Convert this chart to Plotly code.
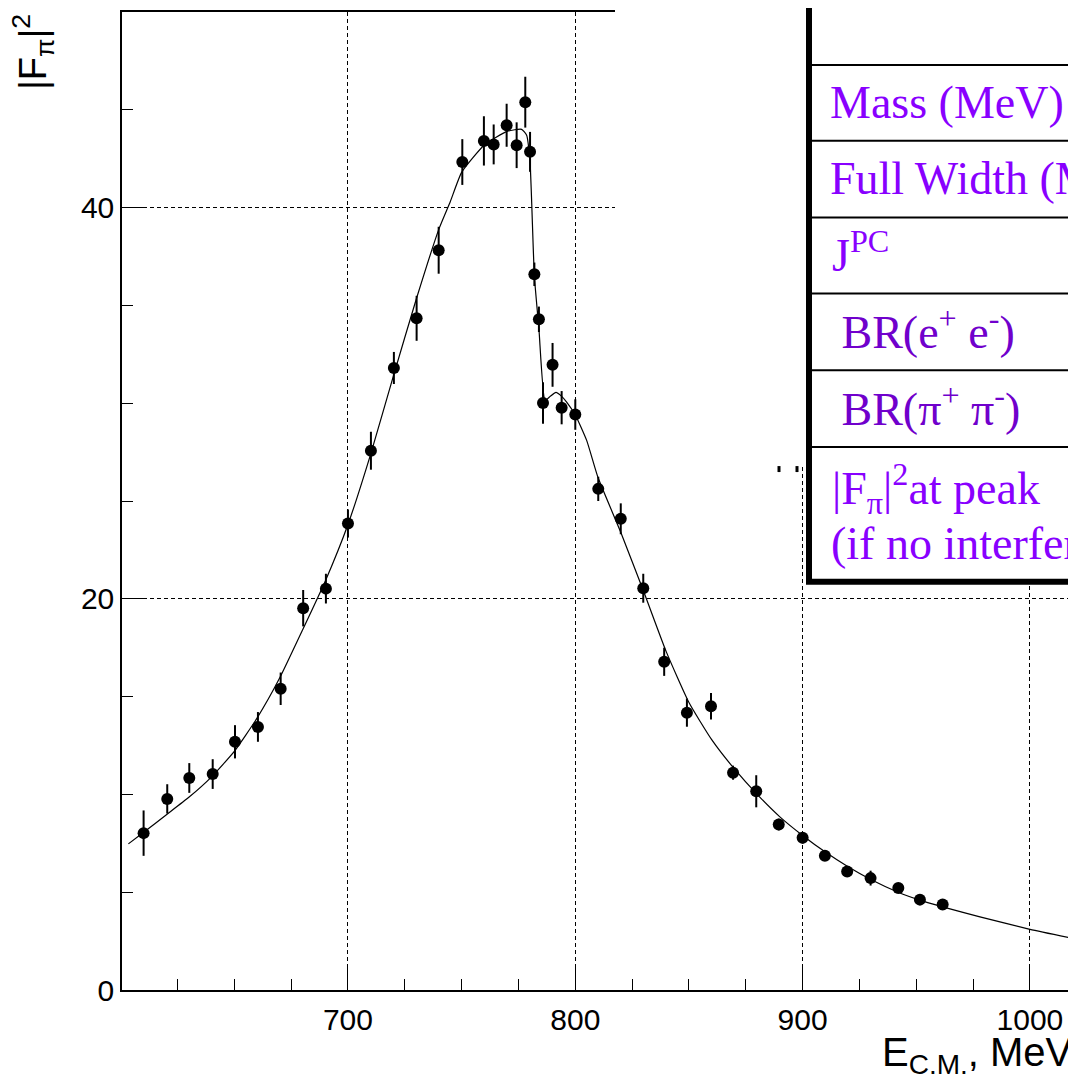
import plotly.graph_objects as go

# ---------------- data ----------------
energy = [610.1, 620.5, 630.2, 640.5, 650.3, 660.4, 670.4, 680.3, 690.3, 700.0,
          710.1, 720.2, 730.2, 739.9, 750.3, 759.8, 764.1, 769.8, 774.2, 778.0,
          780.1, 782.0, 784.0, 785.8, 790.0, 794.0, 800.0, 810.1, 820.0, 829.9,
          839.1, 849.1, 859.7, 869.4, 879.6, 889.5, 900.0, 909.8, 919.6, 929.9,
          942.1, 951.6, 961.6]
ff2 = [8.02, 9.77, 10.84, 11.04, 12.69, 13.45, 15.40, 19.52, 20.52, 23.85,
       27.57, 31.80, 34.34, 37.82, 42.33, 43.41, 43.23, 44.21, 43.19, 45.39,
       42.85, 36.59, 34.29, 30.01, 31.96, 29.77, 29.42, 25.62, 24.09, 20.54,
       16.78, 14.18, 14.51, 11.11, 10.16, 8.46, 7.78, 6.86, 6.06, 5.72,
       5.21, 4.62, 4.37]
ff2_err = [1.16, 0.75, 0.76, 0.76, 0.85, 0.76, 0.83, 0.93, 0.76, 0.72,
           0.97, 0.82, 1.15, 1.20, 1.17, 1.26, 1.02, 1.10, 1.17, 1.30,
           1.02, 0.60, 0.65, 1.06, 1.12, 0.85, 0.78, 0.62, 0.79, 0.74,
           0.72, 0.72, 0.68, 0.36, 0.82, 0.30, 0.30, 0.25, 0.25, 0.38,
           0.25, 0.20, 0.20]

fit_e = [603.4, 610.0, 620.0, 630.0, 640.0, 650.0, 660.0, 670.0, 680.0, 690.0,
         700.0, 710.0, 720.0, 730.0, 740.0, 745.0, 750.0, 760.0, 770.0, 776.4,
         778.6, 780.1, 782.0, 784.0, 786.7, 789.0, 791.5, 794.0, 796.2, 800.0,
         805.0, 810.0, 820.0, 830.0, 840.0, 850.0, 860.0, 870.0, 880.0, 890.0,
         900.0, 910.0, 920.0, 930.0, 942.0, 952.0, 962.0, 978.0, 1000.0, 1018.5]
fit_f = [7.47, 8.05, 8.95, 9.85, 10.9, 12.2, 13.9, 15.96, 18.4, 20.9,
         23.8, 27.4, 31.4, 35.3, 38.9, 40.3, 41.8, 43.2, 43.9, 44.0,
         43.7, 42.3, 36.5, 33.8, 30.15, 30.35, 30.55, 30.35, 30.06, 29.4,
         28.1, 26.2, 23.4, 20.4, 17.3, 14.7, 12.8, 11.3, 10.0, 8.85,
         7.9, 7.05, 6.3, 5.65, 5.0, 4.58, 4.24, 3.74, 3.1, 2.65]

x_ticks = [700, 800, 900, 1000]
y_ticks = [0, 20, 40]

table_rows = ["Mass (MeV)", "Full Width (MeV)", "J<sup>PC</sup>",
              " BR(e<sup>+</sup> e<sup>-</sup>)", " BR(π<sup>+</sup> π<sup>-</sup>)",
              "|F<sub>π</sub>|<sup>2</sup>at peak", "(if no interference)"]
table_colors = ["#8800FF", "#8800FF", "#8800FF", "#7000CC", "#7000CC", "#8800FF", "#8800FF"]
table_text_py = [101, 177, 250, 328, 405, 487, 543]
table_text_px = [828, 828, 830, 828, 828, 830, 829]
table_lines_py = [63, 139, 216, 292, 369, 446]

# ---------------- geometry (page pixels -> paper) ----------------
OFF = 8                      # default page margin in front of the figure
W, H = 1076 - OFF, 1080 - OFF
PL, PR, PT, PB = 122, 1072, 10, 990   # plot area in page pixels
L, T = PL - OFF, PT - OFF
R, B = W + OFF - PR, H + OFF - PB
PW, PH = PR - PL, PB - PT


def px(xp):
    return (xp - PL) / PW


def py(yp):
    return (PB - yp) / PH


fig = go.Figure()

fig.add_trace(go.Scatter(
    x=fit_e, y=fit_f, mode="lines",
    line=dict(color="black", width=1.2, shape="spline", smoothing=0.5),
    hoverinfo="skip", showlegend=False))

fig.add_trace(go.Scatter(
    x=energy, y=ff2, mode="markers",
    marker=dict(color="black", size=12, symbol="circle"),
    error_y=dict(type="data", array=ff2_err, visible=True,
                 color="black", thickness=2, width=0),
    showlegend=False))

axis_font = dict(family="Liberation Sans, Arial, sans-serif", size=30, color="black")

fig.update_xaxes(
    range=[600.6, 1018.5], tickvals=x_ticks, ticks="inside", ticklen=22,
    tickwidth=1, tickcolor="black", showline=True, linecolor="black",
    linewidth=1.5, mirror=True, showgrid=True, gridcolor="black",
    gridwidth=1, griddash="4px,3px", zeroline=False, tickfont=axis_font,
    ticklabelstandoff=2,
    minor=dict(dtick=25, tick0=0, ticks="inside", ticklen=11,
               tickcolor="black", tickwidth=1, showgrid=False))
fig.update_yaxes(
    range=[0, 50], tickvals=y_ticks, ticks="inside", ticklen=22,
    tickwidth=1, tickcolor="black", showline=True, linecolor="black",
    linewidth=1.5, mirror=True, showgrid=True, gridcolor="black",
    gridwidth=1, griddash="4px,3px", zeroline=False, tickfont=axis_font,
    ticklabelstandoff=0,
    minor=dict(dtick=5, tick0=0, ticks="inside", ticklen=11,
               tickcolor="black", tickwidth=1, showgrid=False))

shapes = []
# white area hiding part of the frame / grid next to the table
shapes.append(dict(type="rect", xref="paper", yref="paper",
                   x0=px(615), x1=px(806), y0=py(466), y1=py(-20),
                   fillcolor="white", line=dict(width=0), layer="above"))
# the table box
shapes.append(dict(type="rect", xref="paper", yref="paper",
                   x0=px(809), x1=px(1200), y0=py(581), y1=py(-30),
                   fillcolor="white", line=dict(color="black", width=6), layer="above"))
for yl in table_lines_py:
    shapes.append(dict(type="line", xref="paper", yref="paper",
                       x0=px(812), x1=px(1200), y0=py(yl), y1=py(yl),
                       line=dict(color="black", width=2), layer="above"))
# two small specks left of the table
for xs in [779, 797]:
    shapes.append(dict(type="line", xref="paper", yref="paper",
                       x0=px(xs), x1=px(xs), y0=py(465), y1=py(471),
                       line=dict(color="black", width=3), layer="above"))

annotations = []
for txt, col, yy, xx in zip(table_rows, table_colors, table_text_py, table_text_px):
    annotations.append(dict(
        text=txt, xref="paper", yref="paper", x=px(xx), y=py(yy),
        xanchor="left", yanchor="middle", showarrow=False,
        font=dict(family="Liberation Serif, Times New Roman, serif", size=46, color=col)))

annotations.append(dict(
    text="|F<sub>π</sub>|<sup>2</sup>", textangle=-90, xref="paper", yref="paper",
    x=px(33), y=py(10), xanchor="center", yanchor="top", showarrow=False,
    font=dict(family="Liberation Sans, Arial, sans-serif", size=38, color="black")))
annotations.append(dict(
    text="E<sub>C.M.</sub>, MeV", xref="paper", yref="paper",
    x=px(1075), y=py(1055), xanchor="right", yanchor="middle", showarrow=False,
    font=dict(family="Liberation Sans, Arial, sans-serif", size=40, color="black")))

fig.update_layout(
    width=W, height=H, margin=dict(l=L, r=R, t=T, b=B),
    paper_bgcolor="white", plot_bgcolor="white",
    shapes=shapes, annotations=annotations, showlegend=False)

fig.write_html("out.html")
